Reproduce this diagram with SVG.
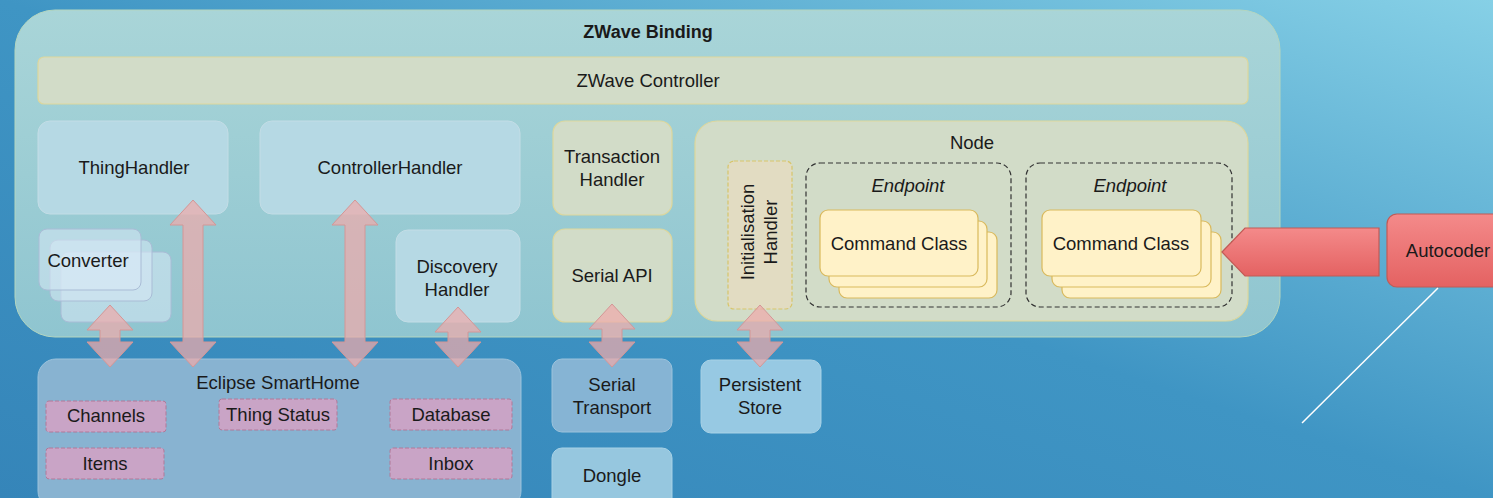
<svg xmlns="http://www.w3.org/2000/svg" width="1493" height="498" viewBox="0 0 1493 498">
<defs>
<linearGradient id="bg" x1="0" y1="1" x2="1" y2="0">
<stop offset="0" stop-color="#3585b9"/>
<stop offset="0.5" stop-color="#3f95c4"/>
<stop offset="1" stop-color="#86d0e6"/>
</linearGradient>
<linearGradient id="outer" x1="0" y1="0" x2="0" y2="1">
<stop offset="0" stop-color="#a9d5d8"/>
<stop offset="1" stop-color="#8fc5d0"/>
</linearGradient>
<linearGradient id="red" x1="0" y1="0" x2="0" y2="1">
<stop offset="0" stop-color="#f48a8a"/>
<stop offset="1" stop-color="#e46262"/>
</linearGradient>
<style>
text{font-family:"Liberation Sans",Arial,sans-serif;font-size:18.5px;fill:#1a1a1a;text-anchor:middle}
.b{font-weight:bold;font-size:18px}
.i{font-style:italic}
.yel{fill:#d2dcc8;stroke:#ddd79c;stroke-width:1.2}
.blu{fill:#b6d9e4;stroke:#c3dde6;stroke-width:1}
.cc{fill:#fff2c8;stroke:#d9b95c;stroke-width:1.2}
.conv{fill:#d8eaf6;fill-opacity:0.55;stroke:#a9bcd6;stroke-width:1}
.ep{fill:none;stroke:#333;stroke-width:1.2;stroke-dasharray:5 3}
.pink{fill:#c9a4c6;stroke:#b07898;stroke-width:1;stroke-dasharray:4 2}
.dar{fill:#eeaaaa;fill-opacity:0.72;stroke:#d49696;stroke-width:1}
.redbox{fill:url(#red);stroke:#c25a55;stroke-width:1.2}
</style>
</defs>
<rect x="0" y="0" width="1493" height="498" fill="url(#bg)"/>

<g id="zwave-binding">
<rect x="15" y="10" width="1265" height="327" rx="40" fill="url(#outer)" stroke="#b4d6c0" stroke-width="1"/>
<text class="b" x="648" y="38">ZWave Binding</text>
</g>
<g id="zwave-controller">
<rect class="yel" x="38" y="57" width="1210" height="47" rx="6"/>
<text x="648" y="87">ZWave Controller</text>
</g>
<g id="thing-handler">
<rect class="blu" x="38" y="121" width="190" height="93" rx="12"/>
<text x="134" y="174">ThingHandler</text>
</g>
<g id="controller-handler">
<rect class="blu" x="260" y="121" width="260" height="93" rx="12"/>
<text x="390" y="174">ControllerHandler</text>
</g>
<g id="transaction-handler">
<rect class="yel" x="553" y="121" width="119" height="94" rx="12"/>
<text x="612" y="163">Transaction</text>
<text x="612" y="186">Handler</text>
</g>
<g id="serial-api">
<rect class="yel" x="553" y="229" width="119" height="93" rx="12"/>
<text x="612" y="282">Serial API</text>
</g>
<g id="node">
<rect class="yel" x="695" y="121" width="553" height="200" rx="22"/>
<text x="972" y="149">Node</text>
</g>
<g id="initialisation-handler">
<rect x="728" y="161" width="64" height="148" rx="6" fill="#e2dcc2" stroke="#d8c56a" stroke-width="1.2" stroke-dasharray="4 2"/>
<text transform="translate(760,232) rotate(-90)" x="0" y="-6">Initialisation</text>
<text transform="translate(760,232) rotate(-90)" x="0" y="17">Handler</text>
</g>
<g id="endpoint-1">
<rect class="ep" x="806" y="163" width="205" height="144" rx="14"/>
<text class="i" x="908" y="192">Endpoint</text>
<rect class="cc" x="839" y="232" width="158" height="66" rx="8"/>
<rect class="cc" x="829" y="221" width="158" height="66" rx="8"/>
<rect class="cc" x="820" y="210" width="158" height="66" rx="8"/>
<text x="899" y="250">Command Class</text>
</g>
<g id="endpoint-2">
<rect class="ep" x="1026" y="163" width="206" height="144" rx="14"/>
<text class="i" x="1130" y="192">Endpoint</text>
<rect class="cc" x="1062" y="232" width="159" height="66" rx="8"/>
<rect class="cc" x="1052" y="221" width="159" height="66" rx="8"/>
<rect class="cc" x="1042" y="210" width="159" height="66" rx="8"/>
<text x="1121" y="250">Command Class</text>
</g>
<g id="converter">
<rect class="conv" x="61" y="252" width="110" height="70" rx="8"/>
<rect class="conv" x="50" y="240" width="102" height="61" rx="8"/>
<rect class="conv" x="39" y="229" width="102" height="61" rx="8"/>
<text x="88" y="267">Converter</text>
</g>
<g id="discovery-handler">
<rect class="blu" x="396" y="230" width="124" height="92" rx="12"/>
<text x="457" y="273">Discovery</text>
<text x="457" y="296">Handler</text>
</g>
<g id="eclipse-smarthome">
<rect x="38" y="359" width="483" height="150" rx="18" fill="#88b3d1" stroke="#9cc3dc" stroke-width="1"/>
<text x="278" y="389">Eclipse SmartHome</text>
</g>
<g id="channels"><rect class="pink" x="46" y="401" width="120" height="31" rx="3"/><text x="106" y="422">Channels</text></g>
<g id="thing-status"><rect class="pink" x="219" y="399" width="118" height="31" rx="3"/><text x="278" y="421">Thing Status</text></g>
<g id="database"><rect class="pink" x="390" y="399" width="122" height="31" rx="3"/><text x="451" y="421">Database</text></g>
<g id="items"><rect class="pink" x="46" y="448" width="118" height="31" rx="3"/><text x="105" y="470">Items</text></g>
<g id="inbox"><rect class="pink" x="390" y="448" width="122" height="31" rx="3"/><text x="451" y="470">Inbox</text></g>
<g id="serial-transport">
<rect x="552" y="359" width="120" height="73" rx="10" fill="#86b4d4" stroke="#9cc3dc" stroke-width="1"/>
<text x="612" y="391">Serial</text>
<text x="612" y="414">Transport</text>
</g>
<g id="persistent-store">
<rect x="701" y="360" width="120" height="73" rx="10" fill="#97c9e3" stroke="#a8d2e6" stroke-width="1"/>
<text x="760" y="391">Persistent</text>
<text x="760" y="414">Store</text>
</g>
<g id="dongle">
<rect x="552" y="448" width="120" height="60" rx="10" fill="#96c7df" stroke="#a8d2e6" stroke-width="1"/>
<text x="612" y="482">Dongle</text>
</g>
<g id="autocoder">
<rect class="redbox" x="1387" y="214" width="120" height="73" rx="10"/>
<text x="1448" y="257">Autocoder</text>
</g>

<g id="connectors">
<path class="dar" d="M110,305 L133,330 L120,330 L120,342 L133,342 L110,367 L87,342 L100,342 L100,330 L87,330 Z"/>
<path class="dar" d="M193,200 L216,225 L203,225 L203,342 L216,342 L193,367 L170,342 L183,342 L183,225 L170,225 Z"/>
<path class="dar" d="M355,200 L378,225 L365,225 L365,342 L378,342 L355,367 L332,342 L345,342 L345,225 L332,225 Z"/>
<path class="dar" d="M458,307 L481,332 L468,332 L468,342 L481,342 L458,367 L435,342 L448,342 L448,332 L435,332 Z"/>
<path class="dar" d="M612,304 L635,329 L622,329 L622,342 L635,342 L612,367 L589,342 L602,342 L602,329 L589,329 Z"/>
<path class="dar" d="M760,305 L783,330 L770,330 L770,342 L783,342 L760,367 L737,342 L750,342 L750,330 L737,330 Z"/>
<path class="redbox" d="M1222,252 L1245,228 L1379,228 L1379,276 L1245,276 Z"/>
<line x1="1438" y1="288" x2="1302" y2="423" stroke="#ffffff" stroke-width="1.5"/>
</g>
</svg>
